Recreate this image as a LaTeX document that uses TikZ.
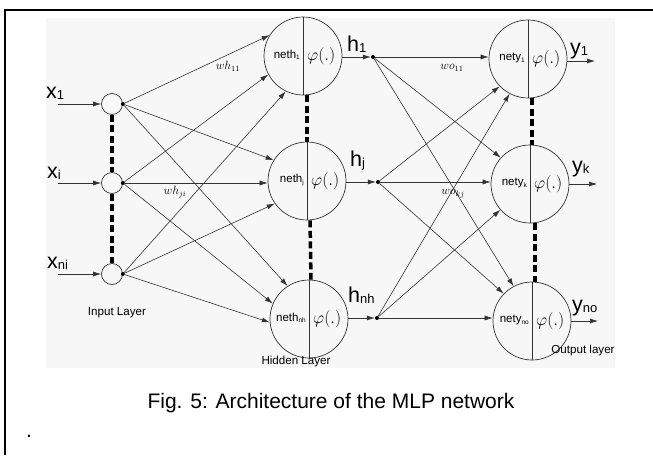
\documentclass[tikz,border=0pt]{standalone}
\usepackage{fontspec}
\setmainfont{Liberation Sans}
\usetikzlibrary{arrows.meta}
\newcommand\lblsub[2]{#1\raisebox{-1pt}{\fontsize{13}{13}\selectfont #2}}
\newcommand\nsub[2]{#1\raisebox{-1.5pt}{\fontsize{6.5}{7}\selectfont #2}}
\begin{document}
\begin{tikzpicture}[x=1pt,y=-1pt,
  neuron/.style={circle,draw=black!80,line width=0.7pt,minimum size=78pt,inner sep=0pt},
  innode/.style={circle,draw=black!80,line width=0.7pt,minimum size=21pt,inner sep=0pt},
  jdot/.style={circle,fill=black,minimum size=4pt,inner sep=0pt},
  conn/.style={line width=0.6pt,draw=black!80,-{Latex[length=8pt,width=5pt]}},
  dotsline/.style={line width=3.5pt,dash pattern=on 7pt off 3.5pt},
  biglbl/.style={font=\fontsize{21.5}{21}\selectfont,inner sep=0pt,anchor=base west},
  ntext/.style={font=\fontsize{11.5}{12}\selectfont,inner sep=0pt,anchor=east},
  phitext/.style={font=\fontsize{17}{17}\selectfont,inner sep=0pt,anchor=west},
  wlbl/.style={font=\fontsize{12}{12}\selectfont,inner sep=0pt},
  layerlbl/.style={font=\fontsize{11.6}{12}\selectfont,inner sep=0pt}
]
\useasboundingbox (0,0) rectangle (653,455);
\fill[black!3] (46,18) rectangle (615,368);
\draw[line width=2pt] (4.5,455) -- (4.5,10) -- (653,10);

% input layer
\node[innode] (x1c) at (112,104) {};
\node[innode] (xic) at (112,183) {};
\node[innode] (xnic) at (112,274) {};
\node[jdot] (d1) at (x1c.east) {};
\node[jdot] (di) at (xic.east) {};
\node[jdot] (dni) at (xnic.east) {};
\coordinate (in1) at (58,104);
\coordinate (ini) at (58,183);
\coordinate (inni) at (58,274);
\draw[conn] (in1) -- (x1c.west);
\draw[conn] (ini) -- (xic.west);
\draw[conn] (inni) -- (xnic.west);
\node[biglbl] (lx1) at (46,98.5) {\lblsub{x}{1}};
\node[biglbl] (lxi) at (47,178.5) {\lblsub{x}{i}};
\node[biglbl] (lxni) at (47,268.5) {\lblsub{x}{ni}};
\draw[dotsline] (x1c.south) -- (xic.north);
\draw[dotsline] (xic.south) -- (xnic.north);
\node[layerlbl] (inlayer) at (117,313) {Input Layer};

% hidden layer
\node[neuron] (neth1) at (303,56) {};
\node[neuron] (nethj) at (307,181) {};
\node[neuron] (nethnh) at (309,319) {};
\foreach \n in {neth1,nethj,nethnh}{
  \draw[line width=0.7pt,black!80] (\n.north) -- (\n.south);
  \node[phitext] at ([xshift=4pt]\n.center) {$\varphi(.)$};
}
\node[ntext] (t1) at ([xshift=-3pt,yshift=1pt]neth1.center) {\nsub{neth}{1}};
\node[ntext] (tj) at ([xshift=-3pt,yshift=1pt]nethj.center) {\nsub{neth}{j}};
\node[ntext] (tnh) at ([xshift=-3pt,yshift=1pt]nethnh.center) {\nsub{neth}{nh}};
\draw[dotsline] (nethj.north |- neth1.south) -- (nethj.north);
\draw[dotsline] ([xshift=3pt]nethj.south) -- ([xshift=2pt]nethnh.north);
\node[layerlbl] (hidlayer) at (296,361) {Hidden Layer};

\node[jdot] (dh1) at (373,57) {};
\node[jdot] (dhj) at (378,182) {};
\node[jdot] (dhnh) at (377,318) {};
\draw[conn] (neth1.east |- dh1) -- (dh1.west);
\draw[conn] (nethj.east |- dhj) -- (dhj.west);
\draw[conn] (nethnh.east |- dhnh) -- (dhnh.west);
\node[biglbl] (lh1) at (347,51) {\lblsub{h}{1}};
\node[biglbl] (lhj) at (350,166) {\lblsub{h}{j}};
\node[biglbl] (lhnh) at (348,302) {\lblsub{h}{nh}};

% input -> hidden
\draw[conn] (d1) -- (neth1.148);
\draw[conn] (d1) -- (nethj.148);
\draw[conn] (d1) -- (nethnh.123);
\draw[conn] (di) -- (neth1.208);
\draw[conn] (di) -- (nethj.west |- di);
\draw[conn] (di) -- (nethnh.157);
\draw[conn] (dni) -- (neth1.244);
\draw[conn] (dni) -- (nethj.215);
\draw[conn] (dni) -- (nethnh.185);
\node[wlbl] (w11) at (228,66) {$wh_{11}$};
\node[wlbl] (wji) at (175,192) {$wh_{ji}$};

% output layer
\node[neuron] (nety1) at (528,59) {};
\node[neuron] (netyk) at (530,184) {};
\node[neuron] (netyno) at (532,321) {};
\foreach \n in {nety1,netyk,netyno}{
  \draw[line width=0.7pt,black!80] (\n.north) -- (\n.south);
  \node[phitext] at ([xshift=4pt]\n.center) {$\varphi(.)$};
}
\node[ntext] (o1) at ([xshift=-3pt,yshift=1pt]nety1.center) {\nsub{nety}{1}};
\node[ntext] (ok) at ([xshift=-3pt,yshift=1pt]netyk.center) {\nsub{nety}{k}};
\node[ntext] (ono) at ([xshift=-3pt,yshift=1pt]netyno.center) {\nsub{nety}{no}};
\draw[dotsline] ([xshift=4pt]nety1.south) -- ([xshift=2pt]netyk.north);
\draw[dotsline] ([xshift=5pt]netyk.south) -- ([xshift=3pt]netyno.north);
\node[layerlbl] (outlayer) at (583,350) {Output layer};

% hidden -> output
\draw[conn] (dh1) -- (nety1.west |- dh1);
\draw[conn] (dh1) -- (netyk.138);
\draw[conn] (dh1) -- (netyno.118);
\draw[conn] (dhj) -- (nety1.224);
\draw[conn] (dhj) -- (netyk.west |- dhj);
\draw[conn] (dhj) -- (netyno.136);
\draw[conn] (dhnh) -- (nety1.242);
\draw[conn] (dhnh) -- (netyk.221);
\draw[conn] (dhnh) -- (netyno.west |- dhnh);
\node[wlbl] (wo11) at (452,68) {$wo_{11}$};
\node[wlbl] (wokj) at (453,194) {$wo_{kj}$};

% outputs
\coordinate (out1) at (595,61);
\coordinate (outk) at (597,184);
\coordinate (outno) at (598,321);
\draw[conn] (nety1.east |- out1) -- (out1);
\draw[conn] (netyk.east |- outk) -- (outk);
\draw[conn] (netyno.east |- outno) -- (outno);
\node[biglbl] (ly1) at (570,54.5) {\lblsub{y}{1}};
\node[biglbl] (lyk) at (572,172) {\lblsub{y}{k}};
\node[biglbl] (lyno) at (572,311) {\lblsub{y}{no}};

% caption
\node[font=\fontsize{21}{21}\selectfont,inner sep=0pt] (cap) at (331,403) {Fig. 5: Architecture of the MLP network};
\node[font=\fontsize{21}{21}\selectfont,inner sep=0pt] (pt) at (29,436) {.};
\end{tikzpicture}
\end{document}
